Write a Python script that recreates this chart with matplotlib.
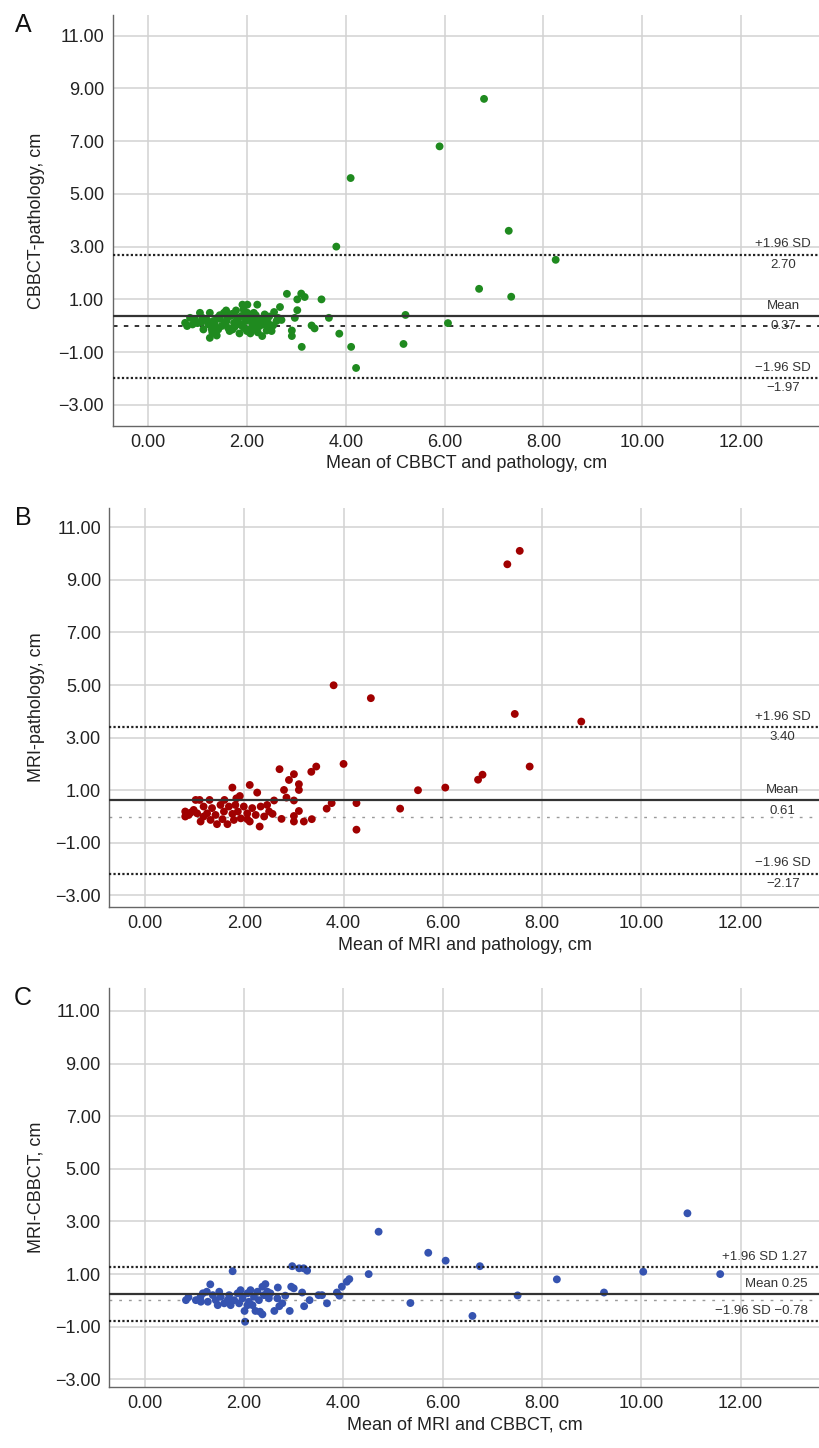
import matplotlib.pyplot as plt
from matplotlib.ticker import FuncFormatter

plt.rcParams['font.family'] = ['Liberation Sans', 'DejaVu Sans']

# panel A: CBBCT - pathology
mean_a = [3.81, 2.81, 3.10, 3.17, 3.02, 3.51, 3.02, 2.67, 2.21, 1.91, 2.01, 2.55, 3.66,
          5.21, 6.07, 2.97, 2.70, 3.31, 3.37, 2.91, 2.91, 3.87, 3.11, 4.11, 4.21, 5.17,
          6.80, 5.90, 4.10, 7.30, 8.25, 6.70, 7.35,
          0.75, 0.79, 0.85, 0.95, 1.05, 1.08, 1.12, 1.17, 1.22, 1.25, 1.25, 1.29, 1.32,
          1.39, 1.42, 1.45, 1.49, 1.535, 1.58, 1.59, 1.62, 1.67, 1.71, 1.74, 1.78, 1.80,
          1.85, 1.86, 1.89, 1.93, 1.94, 1.98, 2.01, 2.05, 2.07, 2.11, 2.14, 2.16, 2.19,
          2.23, 2.26, 2.31, 2.33, 2.36, 2.40, 2.43, 2.46, 2.53, 2.60, 2.63,
          1.10, 1.20, 1.35, 1.45, 1.55, 1.60, 1.65, 1.70, 1.75, 1.82, 1.90, 1.95, 2.00,
          2.05, 2.10, 2.18, 2.22, 2.28, 2.35, 2.45, 2.50, 1.30, 1.00, 0.90, 1.40]
diff_a = [3.00, 1.21, 1.22, 1.09, 1.00, 1.00, 0.59, 0.71, 0.80, 0.80, 0.80, 0.52, 0.30,
          0.41, 0.10, 0.30, 0.22, 0.01, -0.10, -0.18, -0.39, -0.30, -0.80, -0.80, -1.60, -0.69,
          8.60, 6.80, 5.60, 3.60, 2.50, 1.40, 1.10,
          0.11, -0.01, 0.30, 0.24, 0.49, 0.14, -0.14, 0.26, 0.05, 0.49, -0.46, -0.14, 0.18,
          -0.37, -0.14, 0.26, -0.01, 0.49, 0.58, 0.18, -0.08, 0.37, -0.14, 0.11, 0.58, 0.30,
          -0.29, 0.05, 0.37, 0.62, -0.08, 0.18, 0.49, -0.14, -0.29, 0.05, 0.49, 0.26, -0.14,
          0.11, -0.01, -0.39, 0.26, 0.43, -0.18, 0.11, -0.08, 0.01, 0.18, 0.30,
          0.30, 0.20, 0.05, 0.40, 0.10, 0.30, -0.20, 0.45, -0.05, 0.20, 0.00, 0.35, -0.20,
          0.30, 0.15, 0.40, -0.25, 0.20, 0.05, 0.35, -0.20, -0.25, 0.10, 0.05, 0.30]
limits_a = [2.70, 0.37, -1.97]

# panel B: MRI - pathology
mean_b = [7.30, 7.55, 3.80, 4.55, 7.45, 8.79, 7.75, 6.80, 6.71, 6.05, 5.50, 5.14, 4.26,
          4.26, 4.00, 3.45, 3.35, 3.76, 3.66, 3.20, 3.36,
          2.71, 3.00, 2.90, 3.10, 3.10, 2.80, 2.85, 2.60, 3.00, 2.26, 2.11, 1.76, 1.91,
          1.84, 3.10, 3.00, 3.00, 2.75, 2.57, 2.31, 2.11, 2.40, 1.45, 1.66, 1.12, 0.81,
          0.81, 0.92, 1.02, 1.10, 1.30, 1.60, 0.98, 1.18, 1.25, 1.35, 1.42, 1.52, 1.59,
          1.69, 1.76, 1.82, 1.87, 1.93, 1.99, 2.06, 2.16, 2.23, 2.33, 2.46, 2.50, 1.18,
          1.32, 1.56, 1.79, 2.06, 1.05, 0.88]
diff_b = [9.59, 10.10, 4.99, 4.50, 3.90, 3.61, 1.90, 1.59, 1.40, 1.10, 1.00, 0.30, 0.51,
          -0.50, 2.00, 1.90, 1.70, 0.51, 0.30, -0.19, -0.10,
          1.80, 1.61, 1.39, 1.23, 1.01, 1.01, 0.72, 0.61, 0.61, 0.91, 1.20, 1.10, 0.78,
          0.69, 0.21, 0.02, -0.19, -0.09, 0.10, -0.38, -0.19, 0.00, -0.29, -0.29, -0.19, 0.00,
          0.19, 0.15, 0.63, 0.63, 0.63, 0.63, 0.25, 0.38, 0.12, 0.32, 0.06, 0.44, 0.19,
          0.38, 0.10, 0.44, 0.19, -0.07, 0.38, 0.12, 0.32, 0.06, 0.38, 0.44, 0.19, 0.00,
          -0.13, -0.10, -0.13, -0.10, 0.12, 0.06]
limits_b = [3.40, 0.61, -2.17]

# panel C: MRI - CBBCT
mean_c = [4.71, 5.71, 6.06, 6.75, 4.51, 4.12, 4.07, 3.97, 3.87, 3.92, 3.67, 3.57, 3.50,
          3.32, 3.21, 3.17, 3.27, 3.20, 3.11, 2.97, 3.00, 2.95, 2.92, 2.77, 2.71, 2.67,
          2.68, 2.61, 2.83, 1.77, 1.32, 2.02, 2.01, 2.23, 2.37, 2.32, 5.35, 6.60,
          7.51, 8.30, 9.25, 10.04, 10.93, 11.59,
          0.83, 0.88, 1.03, 1.12, 1.17, 1.25, 1.27, 1.37, 1.43, 1.50, 1.53, 1.60, 1.67,
          1.70, 1.73, 1.80, 1.87, 1.90, 1.93, 1.97, 2.07, 2.10, 2.13, 2.17, 2.20, 2.27,
          2.30, 2.37, 2.40, 2.43, 2.47, 2.50, 2.53, 2.07, 1.13, 1.47]
diff_c = [2.61, 1.81, 1.51, 1.30, 1.00, 0.81, 0.71, 0.52, 0.30, 0.18, -0.11, 0.20, 0.20,
          0.01, -0.22, 0.30, 1.13, 1.22, 1.22, 1.30, 0.46, 0.52, -0.40, -0.11, -0.22, 0.08,
          0.49, -0.40, 0.18, 1.11, 0.61, -0.81, -0.40, -0.40, -0.53, -0.43, -0.10, -0.59,
          0.19, 0.80, 0.30, 1.09, 3.31, 1.00,
          0.01, 0.12, 0.01, 0.12, 0.27, 0.33, -0.05, 0.20, 0.01, 0.33, 0.14, -0.11, 0.01,
          0.20, -0.18, 0.01, 0.27, -0.11, 0.39, 0.08, 0.27, -0.05, 0.39, -0.18, 0.14, 0.33,
          0.01, 0.52, 0.20, 0.62, 0.33, 0.08, 0.27, -0.18, -0.05, -0.18]
limits_c = [1.27, 0.25, -0.78]

W, H = 820, 1448
fig = plt.figure(figsize=(W / 100, H / 100), dpi=100)

fmt = FuncFormatter(lambda v, p: f"{v:.2f}".replace('-', '\u2212'))


def panel(px_left, px_top, px_bottom, letter, xs, ys, color, lims, xlabel, ylabel,
          ylim, combined, dark_zero):
    ax = fig.add_axes([px_left / W, 1 - px_bottom / H, 1 - px_left / W,
                       (px_bottom - px_top) / H])
    ax.set_xlim(-0.72, 13.6)
    ax.set_ylim(*ylim)
    ax.set_xticks(range(0, 13, 2))
    ax.set_yticks(range(-3, 12, 2))
    ax.xaxis.set_major_formatter(fmt)
    ax.yaxis.set_major_formatter(fmt)
    ax.grid(True, color='#d2d2d2', lw=1.1)
    ax.set_axisbelow(True)
    for s in ['top', 'right']:
        ax.spines[s].set_visible(False)
    for s in ['left', 'bottom']:
        ax.spines[s].set_color('#666666')
        ax.spines[s].set_linewidth(1.0)
    ax.tick_params(length=0, pad=6, labelsize=13, colors='#222222')

    ax.scatter(xs, ys, s=32, color=color, edgecolors='none', zorder=3)

    up, mean, lo = lims
    if dark_zero:
        ax.axhline(0, color='#222222', lw=1.3, ls=(0, (2.5, 3.5)), zorder=2)
    else:
        ax.axhline(0, color='#9a9a9a', lw=1.0, ls=(0, (2, 5)), zorder=2)
    ax.axhline(up, color='#222222', lw=1.6, ls=(0, (1, 1)), zorder=4)
    ax.axhline(lo, color='#222222', lw=1.6, ls=(0, (1, 1)), zorder=4)
    ax.axhline(mean, color='#333333', lw=1.6, zorder=4)

    tk = dict(fontsize=9.5, color='#333333', textcoords='offset points')
    vstr = lambda v: f"{v:.2f}".replace('-', '\u2212')
    if combined:
        for val, name in [(up, '+1.96 SD'), (mean, 'Mean'), (lo, '\u22121.96 SD')]:
            ax.annotate(f"{name} {vstr(val)}", (13.35, val), xytext=(0, 3),
                        ha='right', va='bottom', **tk)
    else:
        for val, name in [(up, '+1.96 SD'), (mean, 'Mean'), (lo, '\u22121.96 SD')]:
            ax.annotate(name, (12.85, val), xytext=(0, 3), ha='center', va='bottom', **tk)
            ax.annotate(vstr(val), (12.85, val), xytext=(0, -3), ha='center', va='top', **tk)

    ax.set_xlabel(xlabel, fontsize=13, color='#222222', labelpad=3)
    ax.set_ylabel(ylabel, fontsize=13, color='#222222')
    ax.yaxis.set_label_coords((45 - px_left) / (W - px_left), 0.5)
    fig.text(23 / W, 1 - (px_top + 10) / H, letter, fontsize=18, ha='center',
             va='center', color='#111111')
    return ax


panel(112.5, 15, 426, 'A', mean_a, diff_a, '#1f8a1f', limits_a,
      'Mean of CBBCT and pathology, cm', 'CBBCT-pathology, cm', (-3.8, 11.78), False, True)
panel(109.3, 508, 907, 'B', mean_b, diff_b, '#a00000', limits_b,
      'Mean of MRI and pathology, cm', 'MRI-pathology, cm', (-3.44, 11.73), False, False)
panel(109, 988, 1387, 'C', mean_c, diff_c, '#3553b0', limits_c,
      'Mean of MRI and CBBCT, cm', 'MRI-CBBCT, cm', (-3.29, 11.87), True, False)

fig.savefig('out.png', dpi=100)
